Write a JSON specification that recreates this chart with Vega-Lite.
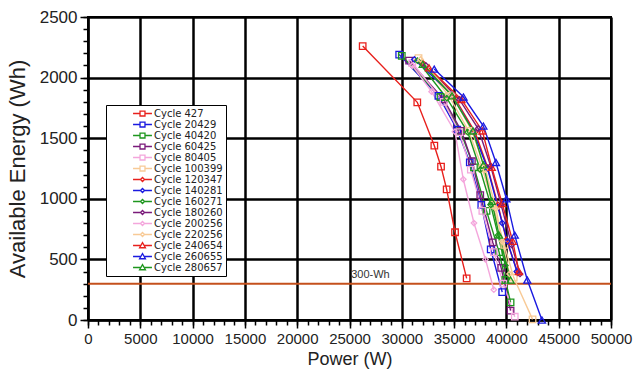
{
  "$schema": "https://vega.github.io/schema/vega-lite/v6.json",
  "width": 523,
  "height": 303,
  "autosize": {"type": "none"},
  "padding": {"left": 88, "top": 17, "right": 23, "bottom": 49},
  "background": "white",
  "config": {
    "font": "Liberation Sans",
    "view": {"stroke": "black", "strokeWidth": 2},
    "axis": {"labelFont": "Liberation Sans", "titleFont": "Liberation Sans", "labelColor": "#222", "titleColor": "#222", "titleFontWeight": "normal"}
  },
  "datasets": {
    "curves": [
      {"series": "Cycle 427", "x": 26260, "y": 2260},
      {"series": "Cycle 427", "x": 31480, "y": 1796},
      {"series": "Cycle 427", "x": 33110, "y": 1438},
      {"series": "Cycle 427", "x": 33750, "y": 1265},
      {"series": "Cycle 427", "x": 34290, "y": 1078},
      {"series": "Cycle 427", "x": 35090, "y": 724},
      {"series": "Cycle 427", "x": 36200, "y": 344},
      {"series": "Cycle 20429", "x": 29750, "y": 2190},
      {"series": "Cycle 20429", "x": 33500, "y": 1850},
      {"series": "Cycle 20429", "x": 35300, "y": 1570},
      {"series": "Cycle 20429", "x": 36500, "y": 1300},
      {"series": "Cycle 20429", "x": 37600, "y": 950},
      {"series": "Cycle 20429", "x": 38500, "y": 583},
      {"series": "Cycle 20429", "x": 39600, "y": 230},
      {"series": "Cycle 40420", "x": 30000, "y": 2180},
      {"series": "Cycle 40420", "x": 33700, "y": 1840},
      {"series": "Cycle 40420", "x": 35600, "y": 1560},
      {"series": "Cycle 40420", "x": 36900, "y": 1260},
      {"series": "Cycle 40420", "x": 38100, "y": 900},
      {"series": "Cycle 40420", "x": 39300, "y": 560},
      {"series": "Cycle 40420", "x": 39900, "y": 330},
      {"series": "Cycle 40420", "x": 40400, "y": 146},
      {"series": "Cycle 60425", "x": 30700, "y": 2140},
      {"series": "Cycle 60425", "x": 34000, "y": 1820},
      {"series": "Cycle 60425", "x": 35700, "y": 1560},
      {"series": "Cycle 60425", "x": 36700, "y": 1310},
      {"series": "Cycle 60425", "x": 37500, "y": 1030},
      {"series": "Cycle 60425", "x": 38700, "y": 640},
      {"series": "Cycle 60425", "x": 39500, "y": 430},
      {"series": "Cycle 60425", "x": 40400, "y": 77},
      {"series": "Cycle 80405", "x": 31000, "y": 2120},
      {"series": "Cycle 80405", "x": 34000, "y": 1800},
      {"series": "Cycle 80405", "x": 35500, "y": 1550},
      {"series": "Cycle 80405", "x": 36600, "y": 1240},
      {"series": "Cycle 80405", "x": 37700, "y": 900},
      {"series": "Cycle 80405", "x": 38800, "y": 560},
      {"series": "Cycle 80405", "x": 39700, "y": 300},
      {"series": "Cycle 80405", "x": 40800, "y": 27},
      {"series": "Cycle 100399", "x": 31600, "y": 2160},
      {"series": "Cycle 100399", "x": 34500, "y": 1850},
      {"series": "Cycle 100399", "x": 36400, "y": 1560},
      {"series": "Cycle 100399", "x": 37700, "y": 1250},
      {"series": "Cycle 100399", "x": 38700, "y": 950},
      {"series": "Cycle 100399", "x": 39800, "y": 620},
      {"series": "Cycle 100399", "x": 40700, "y": 350},
      {"series": "Cycle 100399", "x": 42500, "y": 5},
      {"series": "Cycle 120347", "x": 32000, "y": 2120},
      {"series": "Cycle 120347", "x": 35000, "y": 1840},
      {"series": "Cycle 120347", "x": 37000, "y": 1550},
      {"series": "Cycle 120347", "x": 38200, "y": 1260},
      {"series": "Cycle 120347", "x": 39200, "y": 950},
      {"series": "Cycle 120347", "x": 40000, "y": 660},
      {"series": "Cycle 120347", "x": 41100, "y": 390},
      {"series": "Cycle 140281", "x": 31200, "y": 2150},
      {"series": "Cycle 140281", "x": 34800, "y": 1860},
      {"series": "Cycle 140281", "x": 36800, "y": 1560},
      {"series": "Cycle 140281", "x": 38200, "y": 1250},
      {"series": "Cycle 140281", "x": 39600, "y": 800},
      {"series": "Cycle 140281", "x": 40100, "y": 650},
      {"series": "Cycle 140281", "x": 41000, "y": 400},
      {"series": "Cycle 160271", "x": 31500, "y": 2140},
      {"series": "Cycle 160271", "x": 34300, "y": 1830},
      {"series": "Cycle 160271", "x": 36300, "y": 1550},
      {"series": "Cycle 160271", "x": 37500, "y": 1240},
      {"series": "Cycle 160271", "x": 38500, "y": 950},
      {"series": "Cycle 160271", "x": 39200, "y": 700},
      {"series": "Cycle 160271", "x": 39900, "y": 450},
      {"series": "Cycle 180260", "x": 32300, "y": 2100},
      {"series": "Cycle 180260", "x": 35500, "y": 1820},
      {"series": "Cycle 180260", "x": 37300, "y": 1580},
      {"series": "Cycle 180260", "x": 38500, "y": 1270},
      {"series": "Cycle 180260", "x": 39500, "y": 950},
      {"series": "Cycle 180260", "x": 40500, "y": 620},
      {"series": "Cycle 180260", "x": 41300, "y": 380},
      {"series": "Cycle 200256", "x": 31000, "y": 2100},
      {"series": "Cycle 200256", "x": 32850, "y": 1884},
      {"series": "Cycle 200256", "x": 35080, "y": 1554},
      {"series": "Cycle 200256", "x": 35880, "y": 1161},
      {"series": "Cycle 200256", "x": 36900, "y": 800},
      {"series": "Cycle 200256", "x": 38000, "y": 500},
      {"series": "Cycle 200256", "x": 38800, "y": 250},
      {"series": "Cycle 220256", "x": 31800, "y": 2150},
      {"series": "Cycle 220256", "x": 34800, "y": 1860},
      {"series": "Cycle 220256", "x": 36700, "y": 1560},
      {"series": "Cycle 220256", "x": 38000, "y": 1240},
      {"series": "Cycle 220256", "x": 39000, "y": 920},
      {"series": "Cycle 220256", "x": 39600, "y": 650},
      {"series": "Cycle 220256", "x": 40300, "y": 380},
      {"series": "Cycle 240654", "x": 32600, "y": 2080},
      {"series": "Cycle 240654", "x": 35700, "y": 1820},
      {"series": "Cycle 240654", "x": 37700, "y": 1560},
      {"series": "Cycle 240654", "x": 38600, "y": 1260},
      {"series": "Cycle 240654", "x": 39600, "y": 960},
      {"series": "Cycle 240654", "x": 40600, "y": 650},
      {"series": "Cycle 240654", "x": 41200, "y": 400},
      {"series": "Cycle 260655", "x": 33100, "y": 2070},
      {"series": "Cycle 260655", "x": 35900, "y": 1840},
      {"series": "Cycle 260655", "x": 37800, "y": 1600},
      {"series": "Cycle 260655", "x": 39000, "y": 1300},
      {"series": "Cycle 260655", "x": 40000, "y": 1000},
      {"series": "Cycle 260655", "x": 40800, "y": 700},
      {"series": "Cycle 260655", "x": 42000, "y": 330},
      {"series": "Cycle 260655", "x": 43400, "y": 0},
      {"series": "Cycle 280657", "x": 32000, "y": 2110},
      {"series": "Cycle 280657", "x": 34800, "y": 1850},
      {"series": "Cycle 280657", "x": 36800, "y": 1560},
      {"series": "Cycle 280657", "x": 37800, "y": 1280},
      {"series": "Cycle 280657", "x": 38600, "y": 980},
      {"series": "Cycle 280657", "x": 39300, "y": 700},
      {"series": "Cycle 280657", "x": 40400, "y": 330}
    ],
    "threshold": [{"y": 300, "x": 27000, "ty": 375, "label": "300-Wh"}]
  },
  "resolve": {
    "axis": {"x": "independent", "y": "independent"},
    "legend": {"color": "independent", "shape": "independent"}
  },
  "layer": [
    {
      "data": {"name": "threshold"},
      "mark": {"type": "rule", "color": "#c4501c", "strokeWidth": 2},
      "encoding": {
        "y": {
          "field": "y", "type": "quantitative",
          "scale": {"domain": [0, 2500], "nice": false, "zero": false},
          "axis": {
            "orient": "left",
            "title": "Available Energy (Wh)",
            "titleFontSize": 22,
            "titlePadding": 10,
            "values": [0, 500, 1000, 1500, 2000, 2500],
            "labelOverlap": false,
            "labelFontSize": 17,
            "labelPadding": 3,
            "labelFlush": false,
            "format": "d",
            "grid": true,
            "gridColor": "black",
            "gridWidth": 2.5,
            "domainColor": "black",
            "domainWidth": 2,
            "tickColor": "black",
            "tickWidth": 1.5,
            "tickSize": 8
          }
        }
      }
    },
    {
      "data": {"name": "curves"},
      "mark": {"type": "line", "strokeWidth": 1.4},
      "encoding": {
        "x": {
          "field": "x", "type": "quantitative",
          "scale": {"domain": [0, 50000], "nice": false, "zero": false},
          "axis": {
            "orient": "bottom",
            "title": "Power (W)",
            "titleFontSize": 18,
            "titlePadding": 4,
            "values": [0, 5000, 10000, 15000, 20000, 25000, 30000, 35000, 40000, 45000, 50000],
            "labelOverlap": false,
            "labelFontSize": 15,
            "labelFlush": false,
            "labelPadding": 3,
            "format": "d",
            "grid": true,
            "gridColor": "black",
            "gridWidth": 2.5,
            "domainColor": "black",
            "domainWidth": 2,
            "tickColor": "black",
            "tickWidth": 1.5,
            "tickSize": 8
          }
        },
        "y": {"field": "y", "type": "quantitative", "axis": null},
        "detail": {"field": "series"},
        "color": {
          "field": "series", "type": "nominal",
          "scale": {
            "domain": ["Cycle 427","Cycle 20429","Cycle 40420","Cycle 60425","Cycle 80405","Cycle 100399","Cycle 120347","Cycle 140281","Cycle 160271","Cycle 180260","Cycle 200256","Cycle 220256","Cycle 240654","Cycle 260655","Cycle 280657"],
            "range": ["#e8201c","#1a1ae0","#1e961e","#7a1a7a","#f4a6dc","#f8ca96","#e8201c","#1a1ae0","#1e961e","#7a1a7a","#f4a6dc","#f8ca96","#e8201c","#1a1ae0","#1e961e"]
          },
          "legend": null
        }
      }
    },
    {
      "data": {"name": "threshold"},
      "mark": {"type": "text", "fontSize": 11, "color": "#333", "font": "Liberation Sans"},
      "encoding": {
        "x": {
          "field": "x", "type": "quantitative",
          "axis": {
            "orient": "bottom", "title": null, "labels": false, "grid": false, "domain": false,
            "values": [0,1000,2000,3000,4000,5000,6000,7000,8000,9000,10000,11000,12000,13000,14000,15000,16000,17000,18000,19000,20000,21000,22000,23000,24000,25000,26000,27000,28000,29000,30000,31000,32000,33000,34000,35000,36000,37000,38000,39000,40000,41000,42000,43000,44000,45000,46000,47000,48000,49000,50000],
            "tickColor": "black", "tickWidth": 1.5, "tickSize": 5
          }
        },
        "y": {
          "field": "ty", "type": "quantitative",
          "axis": {
            "orient": "left", "title": null, "labels": false, "grid": false, "domain": false,
            "values": [0,100,200,300,400,500,600,700,800,900,1000,1100,1200,1300,1400,1500,1600,1700,1800,1900,2000,2100,2200,2300,2400,2500],
            "tickColor": "black", "tickWidth": 1.5, "tickSize": 5
          }
        },
        "text": {"field": "label"}
      }
    },
    {
      "data": {"name": "curves"},
      "transform": [{"filter": {"field": "series", "oneOf": ["Cycle 427","Cycle 20429","Cycle 40420","Cycle 60425","Cycle 80405","Cycle 100399"]}}],
      "mark": {"type": "point", "shape": "square", "filled": false, "size": 42, "strokeWidth": 1.3, "opacity": 1},
      "encoding": {
        "x": {"field": "x", "type": "quantitative", "axis": null},
        "y": {"field": "y", "type": "quantitative", "axis": null},
        "color": {"field": "series", "type": "nominal", "legend": null}
      }
    },
    {
      "data": {"name": "curves"},
      "transform": [{"filter": {"field": "series", "oneOf": ["Cycle 120347","Cycle 140281","Cycle 160271","Cycle 180260","Cycle 200256","Cycle 220256"]}}],
      "mark": {"type": "point", "shape": "diamond", "filled": false, "size": 30, "strokeWidth": 1.3, "opacity": 1},
      "encoding": {
        "x": {"field": "x", "type": "quantitative", "axis": null},
        "y": {"field": "y", "type": "quantitative", "axis": null},
        "color": {"field": "series", "type": "nominal", "legend": null}
      }
    },
    {
      "data": {"name": "curves"},
      "transform": [{"filter": {"field": "series", "oneOf": ["Cycle 240654","Cycle 260655","Cycle 280657"]}}],
      "mark": {"type": "point", "shape": "triangle-up", "filled": false, "size": 50, "strokeWidth": 1.3, "opacity": 1},
      "encoding": {
        "x": {"field": "x", "type": "quantitative", "axis": null},
        "y": {"field": "y", "type": "quantitative", "axis": null},
        "color": {"field": "series", "type": "nominal", "legend": null}
      }
    },
    {
      "data": {"name": "curves"},
      "mark": {"type": "point", "filled": false, "opacity": 0, "strokeWidth": 1.3},
      "encoding": {
        "x": {"field": "x", "type": "quantitative", "axis": null},
        "y": {"field": "y", "type": "quantitative", "axis": null},
        "color": {
          "field": "series", "type": "nominal",
          "legend": {
            "title": null,
            "orient": "none",
            "legendX": 18,
            "legendY": 88,
            "fillColor": "white",
            "strokeColor": "black",
            "padding": 3,
            "symbolOpacity": 1,
            "symbolSize": 81,
            "symbolStrokeWidth": 1.3,
            "symbolOffset": 28,
            "labelOffset": 6,
            "labelFontSize": 10,
            "labelFont": "DejaVu Sans",
            "labelColor": "#222",
            "labelExpr": "datum.label + '    '",
            "rowPadding": -1,
            "labelLimit": 200
          }
        },
        "shape": {
          "field": "series", "type": "nominal",
          "scale": {
            "domain": ["Cycle 427","Cycle 20429","Cycle 40420","Cycle 60425","Cycle 80405","Cycle 100399","Cycle 120347","Cycle 140281","Cycle 160271","Cycle 180260","Cycle 200256","Cycle 220256","Cycle 240654","Cycle 260655","Cycle 280657"],
            "range": [
              "M-2.1,0H-0.55M0.55,0H2.1M-0.55,-0.55H0.55V0.55H-0.55Z",
              "M-2.1,0H-0.55M0.55,0H2.1M-0.55,-0.55H0.55V0.55H-0.55Z",
              "M-2.1,0H-0.55M0.55,0H2.1M-0.55,-0.55H0.55V0.55H-0.55Z",
              "M-2.1,0H-0.55M0.55,0H2.1M-0.55,-0.55H0.55V0.55H-0.55Z",
              "M-2.1,0H-0.55M0.55,0H2.1M-0.55,-0.55H0.55V0.55H-0.55Z",
              "M-2.1,0H-0.55M0.55,0H2.1M-0.55,-0.55H0.55V0.55H-0.55Z",
              "M-2.1,0H-0.45M0.45,0H2.1M0.45,0L0,-0.45L-0.45,0L0,0.45Z",
              "M-2.1,0H-0.45M0.45,0H2.1M0.45,0L0,-0.45L-0.45,0L0,0.45Z",
              "M-2.1,0H-0.45M0.45,0H2.1M0.45,0L0,-0.45L-0.45,0L0,0.45Z",
              "M-2.1,0H-0.45M0.45,0H2.1M0.45,0L0,-0.45L-0.45,0L0,0.45Z",
              "M-2.1,0H-0.45M0.45,0H2.1M0.45,0L0,-0.45L-0.45,0L0,0.45Z",
              "M-2.1,0H-0.45M0.45,0H2.1M0.45,0L0,-0.45L-0.45,0L0,0.45Z",
              "M-2.1,0H-0.4M0.4,0H2.1M0,-0.65L0.65,0.5H-0.65Z",
              "M-2.1,0H-0.4M0.4,0H2.1M0,-0.65L0.65,0.5H-0.65Z",
              "M-2.1,0H-0.4M0.4,0H2.1M0,-0.65L0.65,0.5H-0.65Z"
            ]
          },
          "legend": null
        }
      }
    }
  ]
}
